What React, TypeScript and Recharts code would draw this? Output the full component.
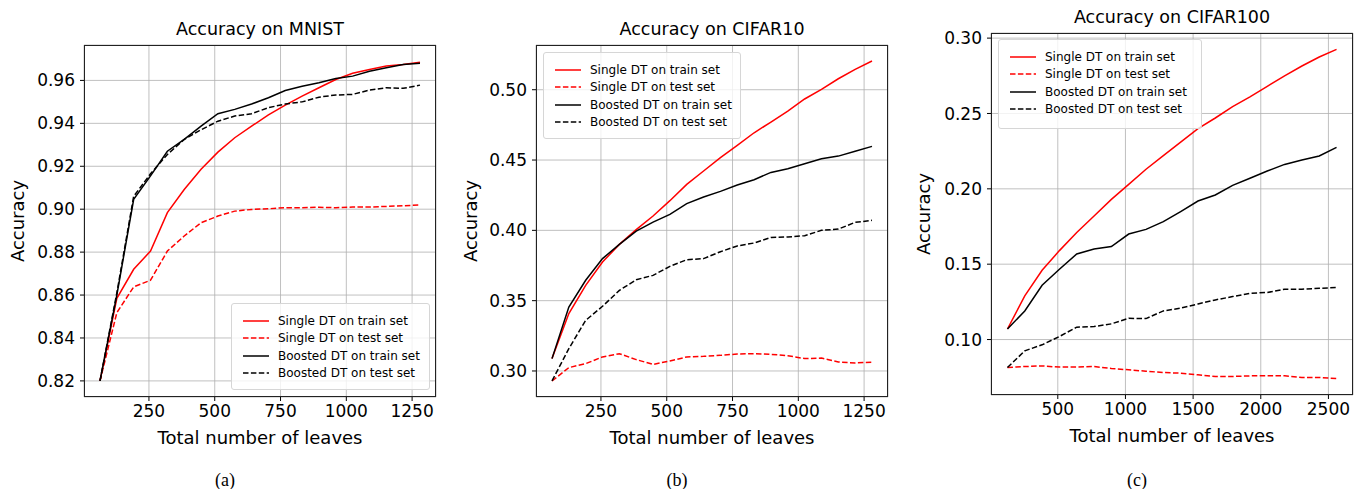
import { LineChart, Line, XAxis, YAxis, CartesianGrid } from 'recharts';

// leaves on the x axis
const leaves = [64, 128, 192, 256, 320, 384, 448, 512, 576, 640, 704, 768, 832, 896, 960, 1024, 1088, 1152, 1216, 1280];
const leaves100 = [128, 256, 384, 512, 640, 768, 896, 1024, 1152, 1280, 1408, 1536, 1664, 1792, 1920, 2048, 2176, 2304, 2432, 2560];

// MNIST
const mnistSingleTrain = [0.82, 0.8585, 0.872, 0.8805, 0.8984, 0.9092, 0.9186, 0.9266, 0.9333, 0.9387, 0.9439, 0.9485, 0.9527, 0.9566, 0.9604, 0.9633, 0.9651, 0.9667, 0.9674, 0.9685];
const mnistSingleTest = [0.82, 0.8518, 0.8638, 0.8669, 0.8805, 0.8875, 0.8937, 0.8968, 0.8991, 0.8999, 0.9002, 0.9007, 0.9007, 0.9009, 0.9007, 0.901, 0.901, 0.9013, 0.9016, 0.902];
const mnistBoostTrain = [0.82, 0.86, 0.9046, 0.9155, 0.927, 0.9325, 0.9387, 0.9445, 0.9465, 0.949, 0.9519, 0.9553, 0.9573, 0.9589, 0.9609, 0.962, 0.9643, 0.9659, 0.9674, 0.968];
const mnistBoostTest = [0.82, 0.861, 0.906, 0.9165, 0.9255, 0.9325, 0.937, 0.941, 0.9434, 0.9445, 0.9473, 0.949, 0.95, 0.9522, 0.9532, 0.9535, 0.9555, 0.9566, 0.9563, 0.9578];

// CIFAR10
const c10SingleTrain = [0.3088, 0.3408, 0.3609, 0.3775, 0.39, 0.4005, 0.4102, 0.4211, 0.4327, 0.4422, 0.4517, 0.4604, 0.4694, 0.477, 0.4848, 0.4934, 0.5002, 0.5078, 0.5145, 0.5204];
const c10SingleTest = [0.2929, 0.3024, 0.3052, 0.31, 0.3123, 0.3081, 0.3047, 0.3071, 0.31, 0.3104, 0.3111, 0.3121, 0.3123, 0.3118, 0.3109, 0.3088, 0.3092, 0.3064, 0.3057, 0.3062];
const c10BoostTrain = [0.3088, 0.3455, 0.3645, 0.3799, 0.39, 0.3995, 0.4059, 0.4114, 0.419, 0.4237, 0.4277, 0.4322, 0.436, 0.4412, 0.4438, 0.4474, 0.4509, 0.4528, 0.4562, 0.4597];
const c10BoostTest = [0.2929, 0.3159, 0.336, 0.346, 0.3573, 0.3649, 0.368, 0.3744, 0.3791, 0.3799, 0.3848, 0.3889, 0.391, 0.395, 0.3953, 0.3962, 0.4, 0.4009, 0.4057, 0.4071];

// CIFAR100
const c100SingleTrain = [0.107, 0.129, 0.146, 0.159, 0.171, 0.182, 0.193, 0.203, 0.213, 0.222, 0.231, 0.24, 0.247, 0.2545, 0.261, 0.268, 0.275, 0.2815, 0.2875, 0.2925];
const c100SingleTest = [0.0814, 0.0821, 0.0825, 0.0817, 0.0817, 0.0821, 0.0808, 0.0799, 0.079, 0.0781, 0.0777, 0.0766, 0.0755, 0.0755, 0.0759, 0.0759, 0.0759, 0.0748, 0.0748, 0.0741];
const c100BoostTrain = [0.107, 0.119, 0.136, 0.1466, 0.1568, 0.1601, 0.1617, 0.17, 0.1731, 0.1782, 0.1849, 0.1919, 0.1959, 0.2023, 0.207, 0.2118, 0.2162, 0.2191, 0.2218, 0.2275];
const c100BoostTest = [0.0814, 0.0925, 0.0965, 0.102, 0.1082, 0.1086, 0.1104, 0.1141, 0.1139, 0.119, 0.1208, 0.1236, 0.1263, 0.1285, 0.1307, 0.1312, 0.1334, 0.1334, 0.134, 0.1345];

const xTicks = [250, 500, 750, 1000, 1250];
const xTicks100 = [500, 1000, 1500, 2000, 2500];
const mnistYTicks = [0.82, 0.84, 0.86, 0.88, 0.9, 0.92, 0.94, 0.96];
const c10YTicks = [0.3, 0.35, 0.4, 0.45, 0.5];
const c100YTicks = [0.1, 0.15, 0.2, 0.25, 0.3];

const seriesNames = ['Single DT on train set', 'Single DT on test set', 'Boosted DT on train set', 'Boosted DT on test set'];

const FONT = '"DejaVu Sans", sans-serif';
const DASH = '5.5 2.4';

const series = [
  { key: 'singleTrain', color: '#ff0000', dash: undefined },
  { key: 'singleTest', color: '#ff0000', dash: DASH },
  { key: 'boostTrain', color: '#000000', dash: undefined },
  { key: 'boostTest', color: '#000000', dash: DASH },
];

function table(xs: number[], a: number[], b: number[], c: number[], d: number[]) {
  return xs.map((x, i) => ({ x, singleTrain: a[i], singleTest: b[i], boostTrain: c[i], boostTest: d[i] }));
}

const panels = [
  {
    title: 'Accuracy on MNIST', caption: '(a)',
    data: table(leaves, mnistSingleTrain, mnistSingleTest, mnistBoostTrain, mnistBoostTest),
    box: { left: 84, top: 45, w: 352, h: 352 },
    xDomain: [3.2, 1340.8], yDomain: [0.8125, 0.9765], xTicks, yTicks: mnistYTicks,
    legend: { left: 231, top: 303, w: 199, h: 87 },
    ylabelX: 18, captionX: 225,
  },
  {
    title: 'Accuracy on CIFAR10', caption: '(b)',
    data: table(leaves, c10SingleTrain, c10SingleTest, c10BoostTrain, c10BoostTest),
    box: { left: 536, top: 45, w: 352, h: 352 },
    xDomain: [3.2, 1340.8], yDomain: [0.2815, 0.5318], xTicks, yTicks: c10YTicks,
    legend: { left: 543, top: 52, w: 198, h: 87 },
    ylabelX: 471, captionX: 677,
  },
  {
    title: 'Accuracy on CIFAR100', caption: '(c)',
    data: table(leaves100, c100SingleTrain, c100SingleTest, c100BoostTrain, c100BoostTest),
    box: { left: 991, top: 33, w: 362, h: 362 },
    xDomain: [6.4, 2681.6], yDomain: [0.0632, 0.3034], xTicks: xTicks100, yTicks: c100YTicks,
    legend: { left: 998, top: 39, w: 204, h: 90 },
    ylabelX: 924, captionX: 1137,
  },
];

const tickStyle = { fontSize: 17, fill: '#000', fontFamily: FONT };

function Legend({ left, top, w, h }: { left: number; top: number; w: number; h: number }) {
  return (
    <div style={{
      position: 'absolute', left, top, width: w, height: h, boxSizing: 'border-box',
      border: '1px solid #d6d6d6', borderRadius: 3, background: 'rgba(255,255,255,0.8)',
      paddingTop: 8, paddingLeft: 11,
    }}>
      {seriesNames.map((name, i) => (
        <div key={name} style={{ display: 'flex', alignItems: 'center', height: 17.5, fontSize: 12, fontFamily: FONT }}>
          <svg width={26} height={4} style={{ marginRight: 9 }}>
            <line x1={0} y1={2} x2={26} y2={2} stroke={series[i].color} strokeWidth={1.5} strokeDasharray={series[i].dash} />
          </svg>
          <span>{name}</span>
        </div>
      ))}
    </div>
  );
}

export default function App() {
  return (
    <div style={{ position: 'relative', width: 1354, height: 489, overflow: 'hidden', background: '#fff', fontFamily: FONT }}>
      <style>{'body{margin:0}'}</style>
      {panels.map((p) => {
        const yw = 80;
        const mt = 10;
        const xh = 40;
        const mr = 1;
        const cx = p.box.left + p.box.w / 2;
        return (
          <div key={p.title}>
            <div style={{ position: 'absolute', left: p.box.left - yw, top: p.box.top - mt }}>
              <LineChart width={yw + p.box.w + mr} height={mt + p.box.h + xh} data={p.data}
                margin={{ top: mt, right: mr, left: 0, bottom: 0 }}>
                <CartesianGrid stroke="#b0b0b0" strokeWidth={0.8} />
                <XAxis dataKey="x" type="number" domain={p.xDomain} ticks={p.xTicks} allowDataOverflow
                  height={xh} axisLine={false} tickSize={4} tickMargin={4} tick={tickStyle}
                  tickLine={{ stroke: '#000' }} interval={0} />
                <YAxis type="number" domain={p.yDomain} ticks={p.yTicks} allowDataOverflow width={yw}
                  axisLine={false} tickSize={4} tickMargin={5} tick={tickStyle} tickLine={{ stroke: '#000' }}
                  tickFormatter={(v: number) => v.toFixed(2)} interval={0} />
                {series.map((s) => (
                  <Line key={s.key} dataKey={s.key} type="linear" stroke={s.color} strokeWidth={1.5}
                    strokeDasharray={s.dash} dot={false} isAnimationActive={false} />
                ))}
              </LineChart>
            </div>
            <div style={{
              position: 'absolute', left: p.box.left, top: p.box.top, width: p.box.w, height: p.box.h,
              border: '1px solid #222', boxSizing: 'border-box', pointerEvents: 'none',
            }} />
            <Legend {...p.legend} />
            <div style={{ position: 'absolute', left: cx - 150, width: 300, top: p.box.top - 26, textAlign: 'center', fontSize: 17.5, lineHeight: '20px' }}>
              {p.title}
            </div>
            <div style={{ position: 'absolute', left: cx - 150, width: 300, top: p.box.top + p.box.h + 31, textAlign: 'center', fontSize: 18, lineHeight: '20px' }}>
              Total number of leaves
            </div>
            <div style={{
              position: 'absolute', left: p.ylabelX - 60, width: 120, top: p.box.top + p.box.h / 2 - 10,
              textAlign: 'center', fontSize: 18, lineHeight: '20px', transform: 'rotate(-90deg)',
            }}>
              Accuracy
            </div>
            <div style={{ position: 'absolute', left: p.captionX - 30, width: 60, top: 470, textAlign: 'center', fontSize: 18, lineHeight: '20px', fontFamily: '"Liberation Serif", serif' }}>
              {p.caption}
            </div>
          </div>
        );
      })}
    </div>
  );
}
